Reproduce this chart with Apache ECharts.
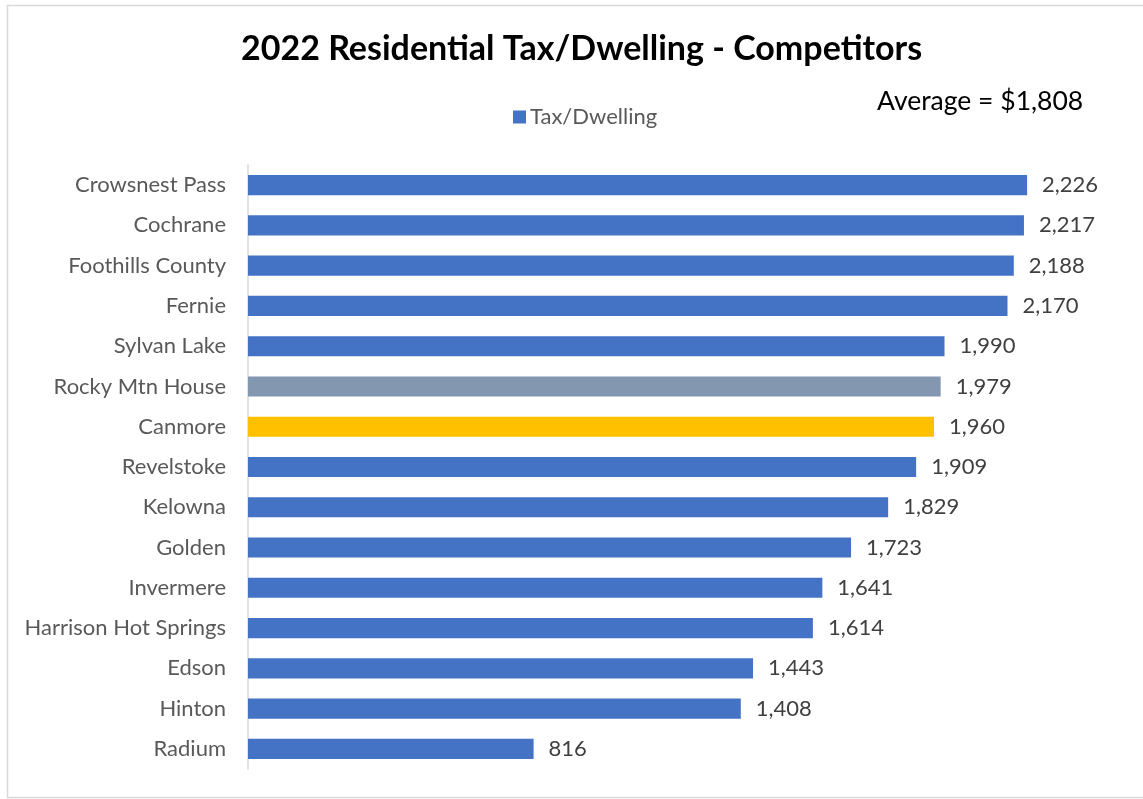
<!DOCTYPE html>
<html>
<head>
<meta charset="utf-8">
<script src="https://cdn.jsdelivr.net/npm/echarts@6/dist/echarts.min.js"></script>
<style>
  html, body { margin: 0; padding: 0; background: #fff; }
  #chart { width: 1143px; height: 799px; }
</style>
</head>
<body>
<div id="chart"></div>
<script>
// Municipalities, top to bottom
const categories = [
  'Crowsnest Pass', 'Cochrane', 'Foothills County', 'Fernie', 'Sylvan Lake',
  'Rocky Mtn House', 'Canmore', 'Revelstoke', 'Kelowna', 'Golden',
  'Invermere', 'Harrison Hot Springs', 'Edson', 'Hinton', 'Radium'
];
// 2022 residential tax per dwelling ($)
const taxPerDwelling = [
  2226, 2217, 2188, 2170, 1990,
  1979, 1960, 1909, 1829, 1723,
  1641, 1614, 1443, 1408, 816
];
const averageText = 'Average = $1,808';
const titleText = '2022 Residential Tax/Dwelling - Competitors';
const seriesName = 'Tax/Dwelling';

// Highlighted bars
const barColors = {
  'Rocky Mtn House': '#8497B0',
  'Canmore': '#FFC000'
};
const baseColor = '#4472C4';
const FONT = 'Lato, "Open Sans", sans-serif';

const chart = echarts.init(document.getElementById('chart'));

const barData = categories.map((c, i) => ({
  value: taxPerDwelling[i],
  itemStyle: { color: barColors[c] || baseColor }
}));

chart.setOption({
  backgroundColor: '#fff',
  animation: false,
  title: {
    text: titleText,
    left: 236,
    top: 27,
    textStyle: { fontFamily: FONT, fontWeight: 'bold', fontSize: 34, color: '#000' }
  },
  legend: {
    data: [seriesName],
    top: 101,
    left: 508,
    icon: 'rect',
    itemWidth: 13,
    itemHeight: 13,
    itemGap: 5,
    textStyle: { fontFamily: FONT, fontSize: 22, color: '#595959', padding: [0, 0, 0, -1] }
  },
  graphic: [
    {
      type: 'rect',
      shape: { x: 7.5, y: 5.5, width: 1160, height: 792 },
      style: { fill: 'none', stroke: '#d9d9d9', lineWidth: 1.5 },
      silent: true
    },
    {
      type: 'text',
      left: 877,
      top: 88,
      style: { text: averageText, fontFamily: FONT, fontSize: 26.5, fill: '#000' }
    }
  ],
  grid: { left: 248, right: 20, top: 165, bottom: 30, containLabel: false },
  xAxis: {
    type: 'value',
    min: 0,
    max: 2500,
    show: false,
    splitLine: { show: false }
  },
  yAxis: {
    type: 'category',
    inverse: true,
    data: categories,
    axisLine: { show: true, lineStyle: { color: '#d9d9d9', width: 1.5 } },
    axisTick: { show: false },
    axisLabel: { fontFamily: FONT, fontSize: 22, color: '#595959', margin: 22 }
  },
  series: [{
    name: seriesName,
    type: 'bar',
    data: barData,
    barWidth: '50%',
    itemStyle: { color: baseColor },
    label: {
      show: true,
      position: 'right',
      distance: 15,
      fontFamily: FONT,
      fontSize: 22,
      color: '#404040',
      formatter: p => p.value.toLocaleString('en-US')
    }
  }]
});
</script>
</body>
</html>
